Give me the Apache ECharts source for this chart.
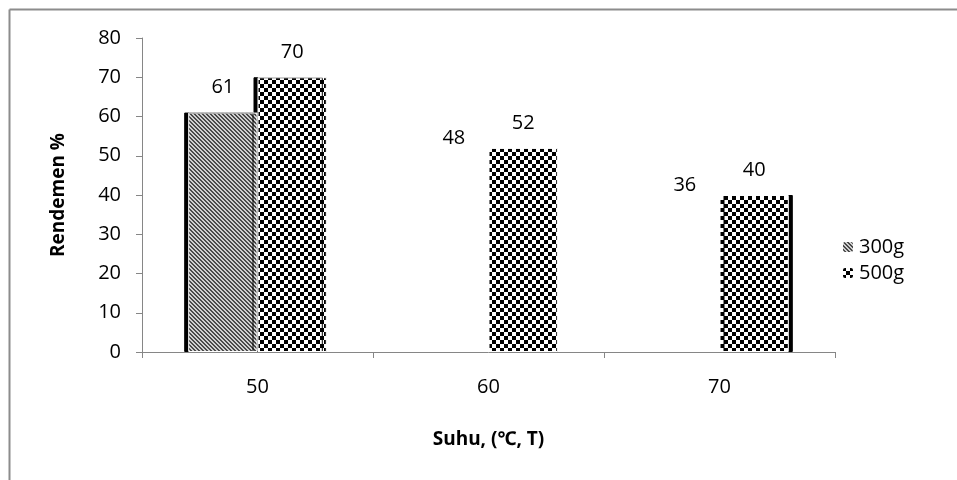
<!DOCTYPE html>
<html><head><meta charset="utf-8">
<script src="https://cdn.jsdelivr.net/npm/echarts@6/dist/echarts.min.js"></script>
<style>html,body{margin:0;padding:0;background:#fff}#c{width:957px;height:480px}</style>
</head><body><div id="c"></div>
<script>
var categories = ['50', '60', '70'];
var series300 = [61, 48, 36];
var series500 = [70, 52, 40];
var yTicks = [0, 10, 20, 30, 40, 50, 60, 70, 80];

function checker() {
  var c = document.createElement('canvas'); c.width = 8; c.height = 8;
  var x = c.getContext('2d');
  x.fillStyle = '#fff'; x.fillRect(0, 0, 8, 8);
  x.fillStyle = '#000'; x.fillRect(0, 0, 4, 4); x.fillRect(4, 4, 4, 4);
  return c;
}
function stripes() {
  var c = document.createElement('canvas'); c.width = 4; c.height = 4;
  var x = c.getContext('2d');
  x.fillStyle = '#d0d0d0'; x.fillRect(0, 0, 4, 4);
  x.fillStyle = '#4a4a4a';
  for (var i = 0; i < 4; i++) { x.fillRect(i, i, 1, 1); x.fillRect((i + 1) % 4, i, 1, 1); }
  return c;
}
var pat500 = { image: checker(), repeat: 'repeat' };
var pat300 = { image: stripes(), repeat: 'repeat' };

var FONT = '"Open Sans", "Noto Sans", sans-serif';
var labelCfg = { show: true, position: 'top', distance: 15, fontSize: 20, color: '#000', fontFamily: FONT };

var data300 = series300.map(function (v, i) {
  if (i === 0) return { value: v, itemStyle: { shadowColor: '#000', shadowOffsetX: -4, shadowBlur: 0 } };
  return { value: v, itemStyle: { color: 'rgba(0,0,0,0)', borderWidth: 0 } };
});
var data500 = series500.map(function (v, i) {
  if (i === 0) return { value: v, itemStyle: { shadowColor: '#000', shadowOffsetX: -4, shadowBlur: 0 } };
  if (i === 2) return { value: v, itemStyle: { shadowColor: '#000', shadowOffsetX: 4, shadowBlur: 0 } };
  return { value: v };
});

var chart = echarts.init(document.getElementById('c'), null, { renderer: 'canvas' });
chart.setOption({
  animation: false,
  backgroundColor: '#fff',
  grid: { left: 142, right: 122, top: 38, bottom: 128 },
  legend: {
    orient: 'vertical', left: 836, top: 232,
    itemWidth: 12, itemHeight: 12, itemGap: 6,
    textStyle: { fontSize: 20, color: '#000', fontFamily: FONT },
    data: ['300g', '500g']
  },
  xAxis: {
    type: 'category', data: categories,
    name: 'Suhu, (\u2103, T)', nameLocation: 'middle', nameGap: 78,
    nameTextStyle: { fontSize: 19, fontWeight: 'bold', color: '#000', fontFamily: FONT },
    axisLine: { lineStyle: { color: '#868686', width: 1 } },
    axisTick: { show: true, length: 6, lineStyle: { color: '#868686' } },
    axisLabel: { fontSize: 20, color: '#000', margin: 25, fontFamily: FONT }
  },
  yAxis: {
    type: 'value', min: 0, max: 80, interval: 10,
    name: 'Rendemen %', nameLocation: 'middle', nameGap: 74,
    nameTextStyle: { fontSize: 19, fontWeight: 'bold', color: '#000', fontFamily: FONT },
    axisLine: { show: true, lineStyle: { color: '#868686', width: 1 } },
    axisTick: { show: true, length: 6, lineStyle: { color: '#868686' } },
    axisLabel: { fontSize: 20, color: '#000', margin: 21, fontFamily: FONT,
      formatter: function (v) { return yTicks.indexOf(v) >= 0 ? String(v) : ''; } },
    splitLine: { show: false }
  },
  series: [
    { name: '300g', type: 'bar', z: 3, barGap: '0%', barCategoryGap: '40%',
      itemStyle: { color: pat300, borderColor: '#fff', borderWidth: 1 },
      label: labelCfg, data: data300 },
    { name: '500g', type: 'bar', z: 2, barGap: '0%', barCategoryGap: '40%',
      itemStyle: { color: pat500, borderColor: '#fff', borderWidth: 1 },
      label: labelCfg, data: data500 }
  ],
  graphic: [
    { type: 'line', silent: true, shape: { x1: 9.5, y1: 9.5, x2: 957, y2: 9.5 }, style: { stroke: '#8c8c8c', lineWidth: 2 } },
    { type: 'line', silent: true, shape: { x1: 9.5, y1: 9.5, x2: 9.5, y2: 480 }, style: { stroke: '#8c8c8c', lineWidth: 2 } }
  ]
});
</script></body></html>
